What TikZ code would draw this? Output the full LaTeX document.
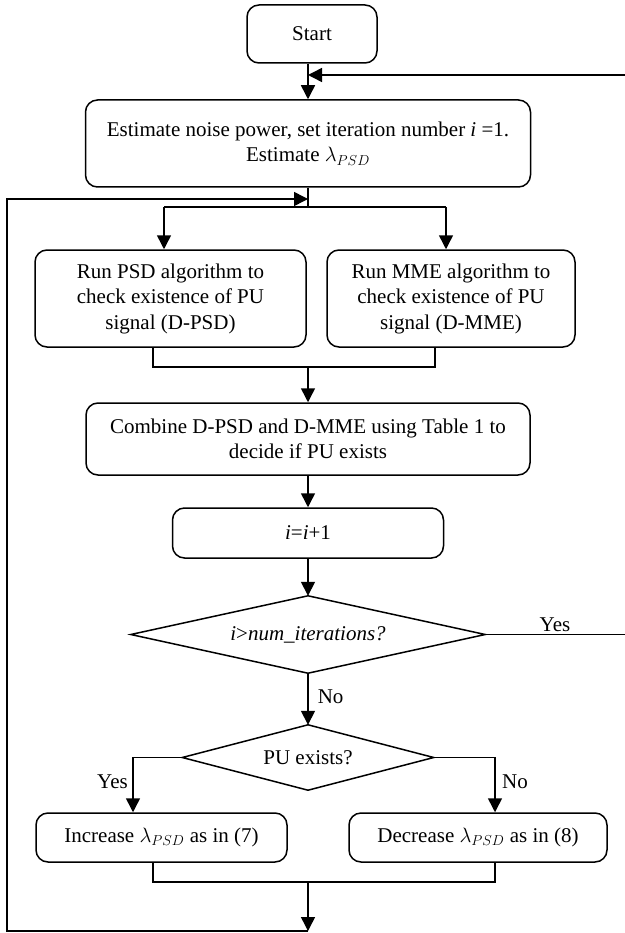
\documentclass[tikz,border=0pt]{standalone}
\usepackage{fontspec}
\setmainfont{Liberation Serif}
\usepackage{tikz}
\usetikzlibrary{arrows.meta}
\tikzset{
  box/.style={draw, line width=1.5pt, rounded corners=12pt, align=center, inner sep=2pt,
    font=\fontsize{21}{25.5}\selectfont},
  test/.style={inner sep=0pt, align=center, font=\fontsize{21}{25}\selectfont},
  wire/.style={line width=1.5pt},
  arr/.style={line width=1.5pt, -{Triangle[length=14pt,width=14pt]}},
  lbl/.style={font=\fontsize{21}{25}\selectfont, inner sep=1pt}
}

\begin{document}
\begin{tikzpicture}[x=1pt,y=-1pt]
  \useasboundingbox (0,0) rectangle (624,933);

  % Boxes
  \node[box, minimum width=130pt, minimum height=58pt] (start) at (312,34) {Start};
  \node[box, minimum width=445pt, minimum height=87pt] (est) at (308,143.5)
    {Estimate noise power, set iteration number \textit{i} =1.\\ Estimate $\lambda_{PSD}$};
  \node[box, minimum width=271pt, minimum height=97pt] (psd) at (170.5,298.5)
    {Run PSD algorithm to\\ check existence of PU\\ signal (D-PSD)};
  \node[box, minimum width=248pt, minimum height=97pt] (mme) at (451,298.5)
    {Run MME algorithm to\\ check existence of PU\\ signal (D-MME)};
  \node[box, minimum width=444pt, minimum height=72pt] (comb) at (308,439)
    {Combine D-PSD and D-MME using Table 1 to\\ decide if PU exists};
  \node[box, minimum width=271pt, minimum height=50pt] (step1) at (308,533)
    {\textit{i}=\textit{i}+1};

  % Decisions
  \node[test, minimum width=354pt, minimum height=77pt] (iter) at (308,634.5)
    {\textit{i}>\textit{num\_iterations?}};
  \draw[wire] (iter.west) -- (iter.north) -- (iter.east) -- (iter.south) -- cycle;
  \node[test, minimum width=251pt, minimum height=65pt] (pu) at (308,757.5)
    {PU exists?};
  \draw[wire] (pu.west) -- (pu.north) -- (pu.east) -- (pu.south) -- cycle;

  \node[box, minimum width=251pt, minimum height=49pt] (incr) at (161.5,837.5)
    {Increase $\lambda_{PSD}$ as in (7)};
  \node[box, minimum width=258pt, minimum height=49pt] (decr) at (478,837.5)
    {Decrease $\lambda_{PSD}$ as in (8)};

  % Bends
  \coordinate (fbR) at (630,75);
  \coordinate (loopL) at (7,199);
  \coordinate (split) at (308,207);
  \coordinate (psdin) at (164,207);
  \coordinate (mmein) at (446,207);
  \coordinate (psdout) at (153,367);
  \coordinate (mmeout) at (435,367);
  \coordinate (joinA) at (308,367);
  \coordinate (yesB) at (133,757.5);
  \coordinate (noB) at (495,757.5);
  \coordinate (incrout) at (153,882);
  \coordinate (decrout) at (495,882);
  \coordinate (joinB) at (308,882);
  \coordinate (bot) at (308,931);

  % Main line
  \draw[arr] (start.south -| est.north) -- (est.north);
  \draw[wire] (est.south) -- (split);
  \draw[wire] (psdin) -- (mmein);
  \draw[arr] (psdin) -- (psdin |- psd.north);
  \draw[arr] (mmein) -- (mmein |- mme.north);
  \draw[wire] (psdout |- psd.south) -- (psdout) -- (mmeout) -- (mmeout |- mme.south);
  \draw[arr] (joinA) -- (comb.north);
  \draw[arr] (comb.south) -- (step1.north);
  \draw[arr] (step1.south) -- (iter.north);
  \draw[arr] (iter.south) -- (pu.north) node[lbl, pos=0.45, right=8pt] (noA) {No};

  % Yes: back to the top
  \draw[arr] (iter.east) -- (iter.east -| fbR) -- (fbR) -- (fbR -| est.north);
  \node[lbl, above=2pt] (yesA) at (555,634.5) {Yes};

  % PU decision
  \draw[arr] (pu.west) -- (yesB) -- (yesB |- incr.north);
  \draw[arr] (pu.east) -- (noB) -- (noB |- decr.north);
  \node[lbl, left=4pt] (yesC) at (133,782) {Yes};
  \node[lbl, right=6pt] (noC) at (495,782) {No};
  \draw[wire] (incrout |- incr.south) -- (incrout) -- (decrout) -- (decrout |- decr.south);
  \draw[arr] (joinB) -- (bot);

  % Loop back
  \draw[arr] (bot) -- (bot -| loopL) -- (loopL) -- (loopL -| split);
\end{tikzpicture}
\end{document}
